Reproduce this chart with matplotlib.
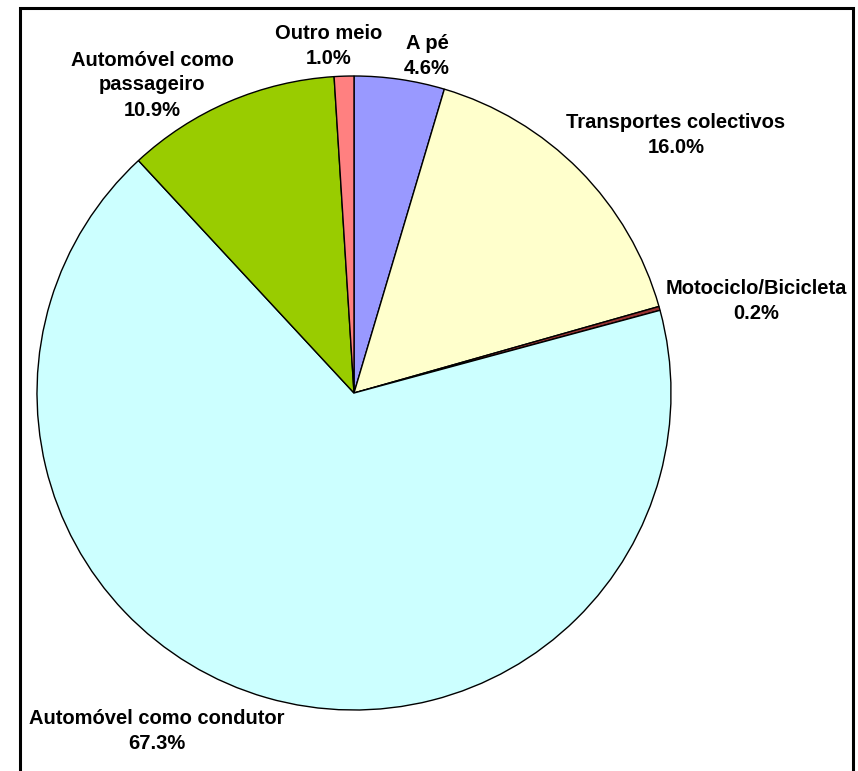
import matplotlib
matplotlib.use("Agg")
import matplotlib.pyplot as plt
from matplotlib.patches import Rectangle

# modal split shares (%), clockwise from the top
categories = ["A pé", "Transportes colectivos", "Motociclo/Bicicleta",
              "Automóvel como condutor", "Automóvel como\npassageiro", "Outro meio"]
shares = [4.6, 16.0, 0.2, 67.3, 10.9, 1.0]
colors = ["#9999FF", "#FFFFCC", "#993333", "#CCFFFF", "#99CC00", "#FF8080"]

# label anchor points in pixel space (x, y from top)
label_pos = [(427, 56), (676, 135), (756, 301), (157, 731), (152, 85), (329, 46)]

W, H = 858, 771
fig = plt.figure(figsize=(W / 100, H / 100), dpi=100)
ax = fig.add_axes([0, 0, 1, 1])

ax.pie(shares, colors=colors, startangle=90, counterclock=False,
       center=(354, H - 393), radius=317, frame=True,
       wedgeprops=dict(edgecolor="black", linewidth=1.0))

# pie() rescales the axes, so fix the pixel-space limits afterwards
ax.set_xlim(0, W)
ax.set_ylim(0, H)
ax.set_aspect("equal")
ax.axis("off")

for name, val, (px, py) in zip(categories, shares, label_pos):
    ax.text(px, H - py, f"{name}\n{val:.1f}%", ha="center", va="center",
            fontsize=14.5, fontweight="bold", family="Liberation Sans",
            linespacing=1.4)

# outer frame (open at the bottom edge of the image)
ax.add_patch(Rectangle((20, -10), 833, H - 8 + 10, fill=False,
                       edgecolor="black", linewidth=2.2, clip_on=False))

fig.savefig("out.png", dpi=100)
